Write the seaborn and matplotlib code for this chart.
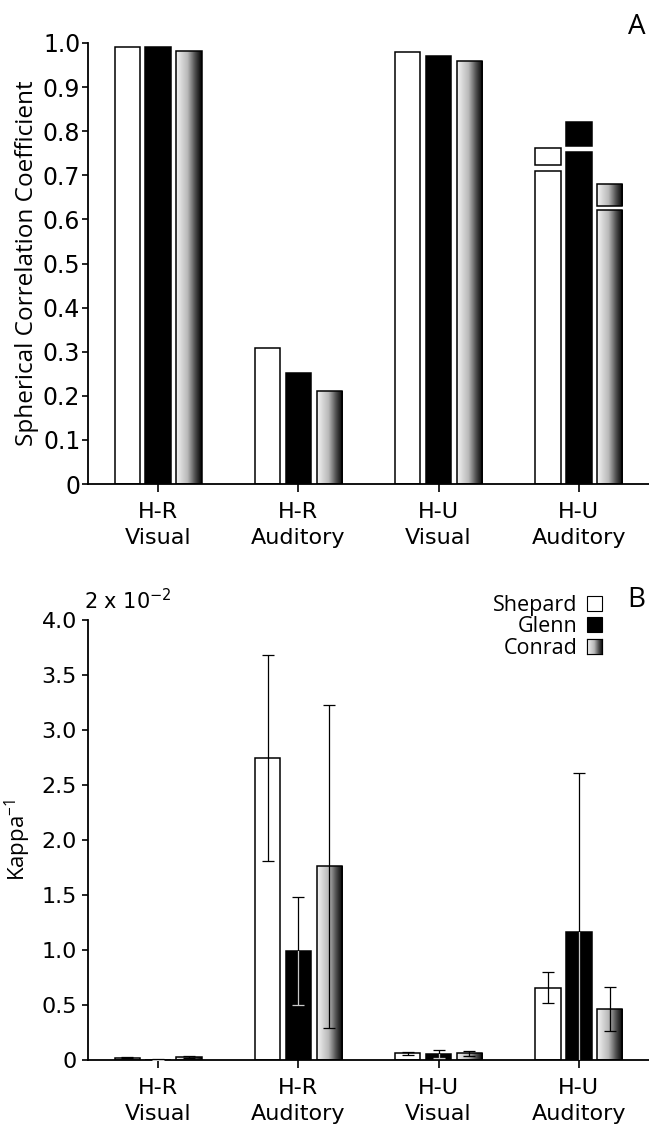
import numpy as np
import pandas as pd
import matplotlib
matplotlib.use("Agg")
import matplotlib.pyplot as plt
import seaborn as sns
from matplotlib.colors import LinearSegmentedColormap
from matplotlib.patches import Rectangle

# ---------------- data ----------------
categories = ["H-R\nVisual", "H-R\nAuditory", "H-U\nVisual", "H-U\nAuditory"]
methods = ["Shepard", "Glenn", "Conrad"]

# Panel A: spherical correlation coefficient
corr_shepard = [0.990, 0.309, 0.980, 0.710]
corr_glenn = [0.990, 0.252, 0.970, 0.753]
corr_conrad = [0.982, 0.211, 0.960, 0.621]
# separate upper boxes drawn for H-U Auditory (bottom, top)
box_bottom = [0.724, 0.766, 0.631]
box_top = [0.762, 0.821, 0.680]

yticks_A = [0, 0.1, 0.2, 0.3, 0.4, 0.5, 0.6, 0.7, 0.8, 0.9, 1.0]
ytick_labels_A = ["0", "0.1", "0.2", "0.3", "0.4", "0.5", "0.6", "0.7", "0.8", "0.9", "1.0"]

# Panel B: Kappa^-1 (x 10^-2)
kappa_shepard = [0.020, 2.745, 0.060, 0.657]
kappa_glenn = [0.004, 0.990, 0.055, 1.163]
kappa_conrad = [0.025, 1.760, 0.060, 0.463]
err_shepard = [0.005, 0.935, 0.015, 0.140]
err_glenn = [0.004, 0.490, 0.035, 1.450]
err_conrad = [0.007, 1.470, 0.025, 0.200]

yticks_B = [0, 0.5, 1.0, 1.5, 2.0, 2.5, 3.0, 3.5, 4.0]
ytick_labels_B = ["0", "0.5", "1.0", "1.5", "2.0", "2.5", "3.0", "3.5", "4.0"]

# ---------------- style ----------------
sns.set_style("ticks", rc={"text.color": "black", "axes.labelcolor": "black",
                           "xtick.color": "black", "ytick.color": "black",
                           "axes.edgecolor": "black"})
plt.rcParams["font.family"] = ["DejaVu Sans"]
LABEL_FONT = ["Open Sans", "DejaVu Sans"]
EDGE_LW = 1.1

conrad_cmap = LinearSegmentedColormap.from_list(
    "conrad", [(0, "#f4f4f4"), (0.45, "#b8b8b8"), (0.75, "#4a4a4a"), (1, "#000000")])
grad = np.linspace(0, 1, 256).reshape(1, -1)
palette = {"Shepard": "white", "Glenn": "black", "Conrad": "white"}


def fill_gradient(ax, patch):
    x0, y0 = patch.get_x(), patch.get_y()
    w, h = patch.get_width(), patch.get_height()
    im = ax.imshow(grad, cmap=conrad_cmap, aspect="auto", origin="lower",
                   extent=[x0, x0 + w, y0, y0 + h], interpolation="bilinear",
                   zorder=patch.get_zorder() - 0.01)
    im.set_clip_path(patch)
    patch.set_facecolor("none")


def style_axes(ax, yticks, ylabels, ylim, ysize, ypad):
    sns.despine(ax=ax)
    for s in ("left", "bottom"):
        ax.spines[s].set_linewidth(1.3)
        ax.spines[s].set_color("black")
    ax.set_xlim(-0.5, 3.5)
    ax.set_ylim(*ylim)
    ax.set_yticks(yticks)
    ax.set_yticklabels(ylabels, fontsize=ysize)
    ax.set_xticks(range(len(categories)))
    ax.set_xticklabels(categories, fontsize=16, linespacing=1.38)
    ax.tick_params(axis="y", direction="out", length=4, width=1.2, pad=ypad, colors="black")
    ax.tick_params(axis="x", direction="out", length=6, width=1.2, pad=7, colors="black")
    ax.set_xlabel("")


fig = plt.figure(figsize=(6.49, 11.28), dpi=100)
W, H = 649, 1128
axA = fig.add_axes([88 / W, 1 - 484 / H, (W - 88) / W, (484 - 43) / H])
axB = fig.add_axes([88 / W, 1 - 1060 / H, (W - 88) / W, (1060 - 620) / H])

# ---------------- panel A ----------------
dfA = pd.DataFrame({
    "condition": categories * 3,
    "method": np.repeat(methods, len(categories)),
    "value": corr_shepard + corr_glenn + corr_conrad,
})
sns.barplot(data=dfA, x="condition", y="value", hue="method", order=categories,
            hue_order=methods, palette=palette, edgecolor="black", linewidth=EDGE_LW,
            width=0.66, gap=0.18, errorbar=None, legend=False, saturation=1, ax=axA)

for i, cont in enumerate(axA.containers[:3]):
    p = cont.patches[3]
    cx = p.get_x() + p.get_width() / 2
    bars = axA.bar([cx], [box_top[i] - box_bottom[i]], bottom=[box_bottom[i]],
                   width=p.get_width(), facecolor=palette[methods[i]],
                   edgecolor="black", linewidth=EDGE_LW)
    if methods[i] == "Conrad":
        for pp in list(cont.patches) + list(bars.patches):
            fill_gradient(axA, pp)

style_axes(axA, yticks_A, ytick_labels_A, (0, 1.0), 17, 1.5)
axA.set_ylabel("Spherical Correlation Coefficient", fontsize=17.5,
               family=LABEL_FONT, labelpad=3)
fig.text(645 / W, 1 - 27 / H, "A", fontsize=20, family=LABEL_FONT,
         ha="right", va="center")

# ---------------- panel B ----------------
dfB = pd.DataFrame({
    "condition": categories * 3,
    "method": np.repeat(methods, len(categories)),
    "value": kappa_shepard + kappa_glenn + kappa_conrad,
})
sns.barplot(data=dfB, x="condition", y="value", hue="method", order=categories,
            hue_order=methods, palette=palette, edgecolor="black", linewidth=EDGE_LW,
            width=0.66, gap=0.18, errorbar=None, legend=False, saturation=1, ax=axB)

errs = [err_shepard, err_glenn, err_conrad]
vals = [kappa_shepard, kappa_glenn, kappa_conrad]
for i, cont in enumerate(axB.containers[:3]):
    xs = [p.get_x() + p.get_width() / 2 for p in cont.patches]
    axB.errorbar(xs, vals[i], yerr=errs[i], fmt="none", ecolor="black",
                 elinewidth=0.9, capsize=4.5, capthick=0.9, zorder=5)
    if methods[i] == "Glenn":
        for x, v, e, p in zip(xs, vals[i], errs[i], cont.patches):
            eb = axB.errorbar([x], [v], yerr=[e], fmt="none", ecolor="#c8c8c8",
                              elinewidth=0.9, capsize=4.5, capthick=0.9, zorder=6)
            for art in list(eb.lines[1]) + list(eb.lines[2]):
                art.set_clip_path(p)
    if methods[i] == "Conrad":
        for p in cont.patches:
            fill_gradient(axB, p)

style_axes(axB, yticks_B, ytick_labels_B, (0, 4.0), 16, 4)
axB.set_ylabel("Kappa$^{\\mathregular{-1}}$", fontsize=16, family=LABEL_FONT, labelpad=6)
axB.text(-0.008, 1.015, "2 x 10$^{\\mathregular{-2}}$", transform=axB.transAxes,
         fontsize=15, ha="left", va="bottom")
fig.text(645 / W, 1 - 600 / H, "B", fontsize=20, family=LABEL_FONT,
         ha="right", va="center")

handles = [Rectangle((0, 0), 1, 1, facecolor=palette[m], edgecolor="black", linewidth=0.8)
           for m in methods]
leg = axB.legend(handles, methods, loc="upper right", bbox_to_anchor=(602 / W, 1 - 595 / H),
                 bbox_transform=fig.transFigure, frameon=False, markerfirst=False,
                 handlelength=0.7, handleheight=0.7, handletextpad=0.45,
                 labelspacing=0.02, borderpad=0, borderaxespad=0,
                 prop={"family": LABEL_FONT, "size": 15.5})

axA.set_xlim(-0.5, 3.5); axA.set_ylim(0, 1.0)
axB.set_xlim(-0.5, 3.5); axB.set_ylim(0, 4.0)

# gradient for the Conrad legend key
fig.canvas.draw()
lp = leg.get_patches()[2]
bb = lp.get_window_extent().transformed(fig.transFigure.inverted())
gax = fig.add_axes([bb.x0, bb.y0, bb.width, bb.height])
gax.imshow(grad, cmap=conrad_cmap, aspect="auto", interpolation="bilinear")
gax.set_xticks([]); gax.set_yticks([])
for s in gax.spines.values():
    s.set_linewidth(0.8)
    s.set_color("black")

fig.savefig("out.png", dpi=100)
